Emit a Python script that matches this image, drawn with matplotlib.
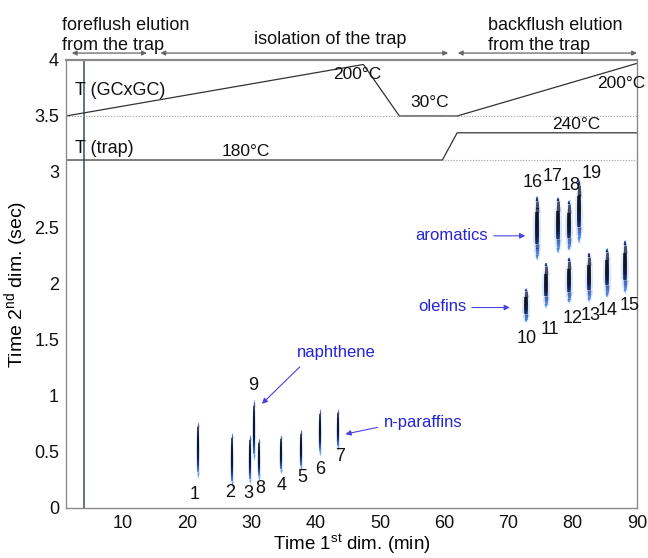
import numpy as np
import matplotlib

matplotlib.use("Agg")

import matplotlib.pyplot as plt
from matplotlib.collections import LineCollection
from matplotlib.colors import LinearSegmentedColormap

plt.rcParams.update(
    {
        "font.family": ["Liberation Sans", "DejaVu Sans"],
        "mathtext.fontset": "custom",
        "mathtext.rm": "Liberation Sans",
        "mathtext.it": "Liberation Sans:italic",
        "text.color": "#111111",
    }
)

# peaks: number, 1st dim time (min), 2nd dim start / end (sec)
peak_ids = ["1", "2", "3", "9", "8", "4", "5", "6", "7",
            "10", "11", "12", "13", "14", "15", "16", "17", "18", "19"]
peak_t1 = [21.6, 26.9, 29.7, 30.4, 31.1, 34.5, 37.7, 40.7, 43.4,
           72.7, 75.9, 79.4, 82.5, 85.3, 88.2, 74.4, 77.7, 79.4, 81.0]
peak_lo = [0.27, 0.19, 0.22, 0.43, 0.25, 0.31, 0.34, 0.47, 0.52,
           1.66, 1.79, 1.83, 1.84, 1.88, 1.92, 2.21, 2.28, 2.30, 2.37]
peak_hi = [0.77, 0.67, 0.65, 0.96, 0.62, 0.65, 0.70, 0.88, 0.88,
           1.96, 2.19, 2.24, 2.28, 2.32, 2.39, 2.79, 2.78, 2.75, 2.93]
label_x = [21.2, 26.7, 29.5, 30.2, 31.3, 34.7, 37.9, 40.7, 43.8,
           72.9, 76.5, 79.9, 82.8, 85.5, 88.9, 73.8, 76.9, 79.6, 83.0]
label_y = [0.12, 0.14, 0.13, 1.09, 0.17, 0.20, 0.27, 0.34, 0.46,
           1.51, 1.59, 1.69, 1.72, 1.76, 1.81, 2.91, 2.96, 2.88, 2.99]

solvent_t1 = 3.9

# temperature programmes drawn in the upper band
gc_time = [1.1, 47.4, 53.0, 62.0, 90.0]
gc_level = [3.50, 3.96, 3.50, 3.50, 3.97]
trap_time = [1.1, 59.7, 62.0, 90.0]
trap_level = [3.107, 3.107, 3.35, 3.35]

temp_labels = ["200°C", "30°C", "200°C", "240°C", "180°C"]
temp_x = [42.7, 54.7, 83.8, 76.8, 25.4]
temp_y = [3.87, 3.62, 3.79, 3.42, 3.18]

phases = [(2.0, 13.7), (15.8, 60.6), (62.1, 90.0)]

group_names = ["naphthene", "n-paraffins", "aromatics", "olefins"]
group_text_xy = [(37.0, 1.39), (50.6, 0.76), (55.4, 2.43), (55.9, 1.80)]
group_arrow_tail = [(37.5, 1.26), (49.6, 0.72), (67.7, 2.43), (64.3, 1.79)]
group_arrow_head = [(31.6, 0.93), (44.6, 0.66), (72.6, 2.43), (70.2, 1.79)]

XMIN, XMAX = 1.1, 90.0

core_cmap = LinearSegmentedColormap.from_list(
    "blob", ["#e4efff", "#6aa6f5", "#2452b8", "#101a40", "#111111"]
)


def draw_peak(axis, x, lo, hi, big):
    n = 60
    ys = np.linspace(lo, hi, n + 1)
    segs = [[(x, ys[i]), (x, ys[i + 1])] for i in range(n)]
    t = (np.arange(n) + 0.5) / n
    prof = np.sin(np.pi * t) ** 0.35
    # soft blue halo, strongest towards the lower end
    glow = np.zeros((n, 4))
    glow[:, :3] = matplotlib.colors.to_rgb("#7ab0ff")
    glow[:, 3] = 0.35 * prof * (1.3 - 0.9 * t)
    axis.add_collection(
        LineCollection(segs, colors=glow, linewidths=(6.0 if big else 3.0) * prof)
    )
    shade = np.clip(prof * (0.55 + 0.6 * t), 0, 1)
    core = core_cmap(shade)
    axis.add_collection(
        LineCollection(segs, colors=core, linewidths=(2.6 if big else 1.3) * prof + 0.2)
    )


fig = plt.figure(figsize=(6.48, 5.58), dpi=100)
fig.patch.set_facecolor("white")
ax = fig.add_axes([66 / 648, 50 / 558, 571 / 648, 448 / 558])
ax.set_xlim(XMIN, XMAX)
ax.set_ylim(0, 4)

# solvent front
ax.plot([solvent_t1, solvent_t1], [0, 4], color="#3c4a66", linewidth=1.1)

for pid, x, lo, hi in zip(peak_ids, peak_t1, peak_lo, peak_hi):
    draw_peak(ax, x, lo, hi, big=lo > 1.5)

for pid, x, y in zip(peak_ids, label_x, label_y):
    ax.text(x, y, pid, ha="center", va="center", fontsize=13)

# temperature band
ax.plot(gc_time, gc_level, color="#333333", linewidth=0.9)
ax.plot(trap_time, trap_level, color="#333333", linewidth=0.9)
ax.plot([XMIN, XMAX], [3.5, 3.5], color="#999999", linewidth=0.8, linestyle=(0, (1, 1.5)))
ax.plot([trap_time[1], XMAX], [trap_level[0], trap_level[0]],
        color="#999999", linewidth=0.8, linestyle=(0, (1, 1.5)))
ax.text(2.5, 3.73, "T (GCxGC)", fontsize=13, va="center")
ax.text(2.5, 3.21, "T (trap)", fontsize=13, va="center")
for label, x, y in zip(temp_labels, temp_x, temp_y):
    ax.text(x, y, label, fontsize=12.5, va="center", clip_on=False)

# phase arrows above the axes
for start, end in phases:
    ax.annotate(
        "", xy=(start, 4.062), xytext=(end, 4.062),
        arrowprops={"arrowstyle": "<|-|>", "color": "#666666", "linewidth": 0.9,
                    "mutation_scale": 7, "shrinkA": 0, "shrinkB": 0},
        annotation_clip=False,
    )
ax.text(0.5, 4.055, "foreflush elution\nfrom the trap", fontsize=13,
        va="bottom", ha="left", linespacing=1.2)
ax.text(42.2, 4.18, "isolation of the trap", fontsize=13, va="center", ha="center")
ax.text(66.8, 4.055, "backflush elution\nfrom the trap", fontsize=13,
        va="bottom", ha="left", linespacing=1.2)

# compound group annotations
for name, txy, tail, head in zip(group_names, group_text_xy, group_arrow_tail, group_arrow_head):
    ax.text(txy[0], txy[1], name, color="#2424d8", fontsize=12, va="center", ha="left")
    ax.annotate(
        "", xy=head, xytext=tail,
        arrowprops={"arrowstyle": "-|>", "color": "#4444e0", "linewidth": 0.8,
                    "mutation_scale": 8, "shrinkA": 0, "shrinkB": 0},
    )

ax.set_xticks([10, 20, 30, 40, 50, 60, 70, 80, 90])
ax.set_yticks([0, 0.5, 1, 1.5, 2, 2.5, 3, 3.5, 4])
ax.set_yticklabels(["0", "0.5", "1", "1.5", "2", "2.5", "3", "3.5", "4"])
ax.tick_params(length=0, labelsize=13, pad=5, colors="#111111")
for side in ax.spines.values():
    side.set_color("#8a8a8a")
    side.set_linewidth(1.0)
ax.spines["top"].set_linewidth(1.6)
ax.set_xlabel("Time 1$^{\\mathrm{st}}$ dim. (min)", fontsize=13.5, labelpad=0)
ax.set_ylabel("Time 2$^{\\mathrm{nd}}$ dim. (sec)", fontsize=14, labelpad=3)

fig.savefig("out.png", dpi=100)
